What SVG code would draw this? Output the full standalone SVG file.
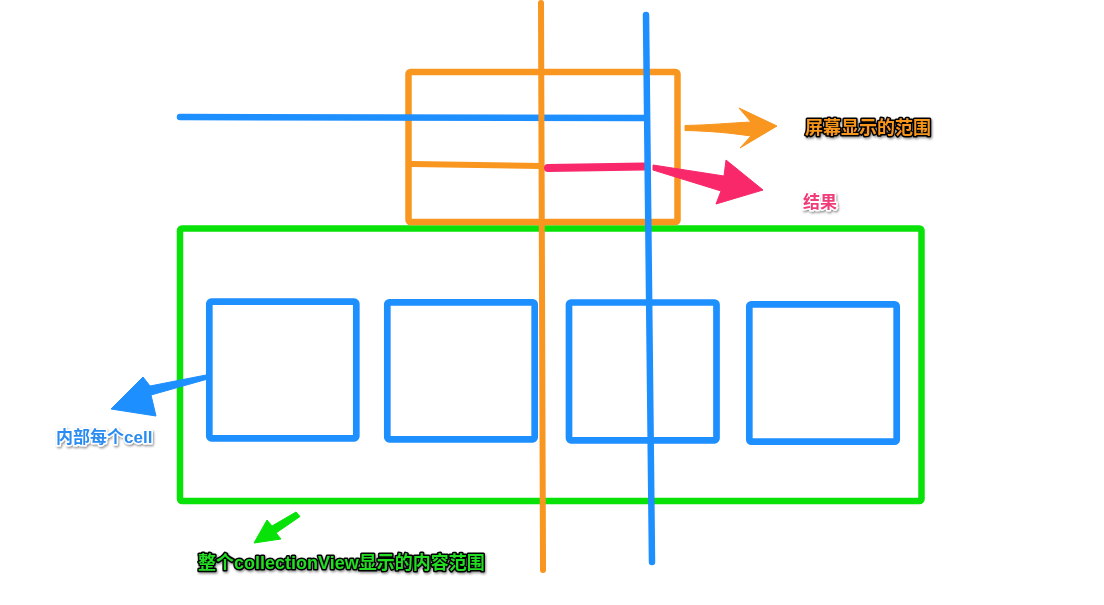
<svg xmlns="http://www.w3.org/2000/svg" width="1104" height="605" viewBox="0 0 1104 605">
<defs>
<style>
.box{fill:none;stroke-linejoin:round}
.blue{stroke:#1E8FFF}
.lbl{font-family:"Liberation Sans","Noto Sans CJK SC",sans-serif;font-weight:bold;paint-order:stroke;stroke-linejoin:round}
.ln{fill:none;stroke-linecap:round}
</style>
<filter id="sh" x="-10%" y="-30%" width="120%" height="160%">
<feDropShadow dx="1" dy="1.5" stdDeviation="1.2" flood-color="#000" flood-opacity="0.45"/>
</filter>
</defs>
<rect width="1104" height="605" fill="#fff"/>
<g id="collectionView">
<rect class="box" x="180" y="228.5" width="741.5" height="272.5" rx="2" stroke="#08E208" stroke-width="6.5"/>
</g>
<g id="cells">
<rect id="cell1" class="box blue" x="209.3" y="301.7" width="147" height="136.6" rx="2" stroke-width="6.7"/>
<rect id="cell2" class="box blue" x="387.3" y="302.3" width="147.4" height="137" rx="2" stroke-width="6.7"/>
<rect id="cell3" class="box blue" x="569" y="302.5" width="147.5" height="137.8" rx="2" stroke-width="6.7"/>
<rect id="cell4" class="box blue" x="749.3" y="304.3" width="147.4" height="137.4" rx="2" stroke-width="6.7"/>
</g>
<g id="screen">
<rect class="box" x="408.5" y="72" width="269" height="150" rx="2" stroke="#F8961F" stroke-width="6.5"/>
</g>
<g id="connectors">
<line class="ln" x1="412" y1="164" x2="541" y2="166" stroke="#F8961F" stroke-width="6"/>
<line class="ln" x1="180" y1="117" x2="645" y2="118" stroke="#1E8FFF" stroke-width="6.5"/>
<line class="ln" x1="541" y1="3" x2="543" y2="570" stroke="#F8961F" stroke-width="6"/>
<line class="ln" x1="548" y1="168" x2="644" y2="166.5" stroke="#F8286B" stroke-width="8"/>
<line class="ln" x1="646" y1="15" x2="652" y2="562" stroke="#1E8FFF" stroke-width="6.5"/>
<path d="M685,125.5 C710,125 730,123 751,122 L739,108 L777,126 L740,148 L751,136 C730,133 710,131 685,130.5 Z" fill="#F8961F" stroke="#F8961F" stroke-width="1" stroke-linejoin="round"/>
<path d="M653,165 L724,176 L726,160 L763,190 L716,204 L721,191 L653,170 Z" fill="#F8286B" stroke="#F8286B" stroke-width="1" stroke-linejoin="round"/>
<path d="M206,375 L150,386 L143,377 L111,409 L156,416 L151,395 L206,379.5 Z" fill="#1E8FFF" stroke="#1E8FFF" stroke-width="1" stroke-linejoin="round"/>
<path d="M296,512 L272,526 L267,520 L254,543 L281,539 L276,533 L300,516.5 Z" fill="#08E208" stroke="#08E208" stroke-width="1" stroke-linejoin="round"/>
</g>
<g id="label-screen">
<text class="lbl" x="805" y="133.5" font-size="18" fill="#F8961F" stroke="#000" stroke-width="3" filter="url(#sh)">屏幕显示的范围</text>
</g>
<g id="label-result">
<text class="lbl" x="803" y="208" font-size="17" fill="#F03C78" stroke="#fff" stroke-width="3" filter="url(#sh)">结果</text>
</g>
<g id="label-cell">
<text class="lbl" x="56" y="443" font-size="17" fill="#2A8CF0" stroke="#fff" stroke-width="3" filter="url(#sh)">内部每个cell</text>
</g>
<g id="label-collection">
<text class="lbl" x="198" y="568.5" font-size="18" fill="#22DD22" stroke="#000" stroke-width="3" filter="url(#sh)">整个collectionView显示的内容范围</text>
</g>
</svg>
